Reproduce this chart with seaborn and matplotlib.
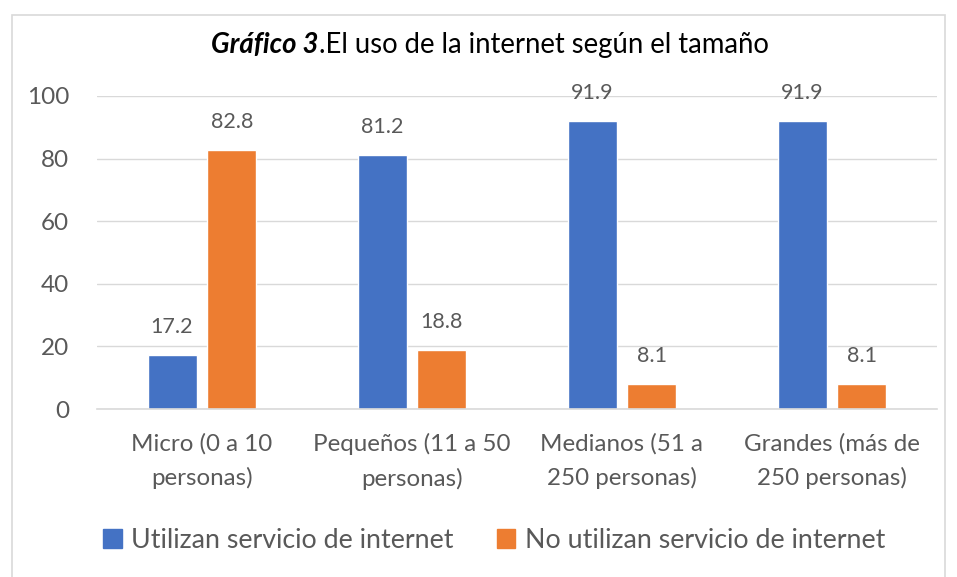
import matplotlib
matplotlib.use("Agg")
import matplotlib.pyplot as plt
from matplotlib.patches import Rectangle
import seaborn as sns
import pandas as pd

categories = ["Micro (0 a 10\npersonas)", "Pequeños (11 a 50\npersonas)",
              "Medianos (51 a\n250 personas)", "Grandes (más de\n250 personas)"]
series_names = ["Utilizan servicio de internet", "No utilizan servicio de internet"]
usan = [17.2, 81.2, 91.9, 91.9]
no_usan = [82.8, 18.8, 8.1, 8.1]
y_ticks = [0, 20, 40, 60, 80, 100]

colors = ["#4472C4", "#ED7D31"]
text_color = "#595959"

df = pd.DataFrame({
    "categoria": categories * 2,
    "serie": [series_names[0]] * 4 + [series_names[1]] * 4,
    "valor": usan + no_usan,
})

sns.set_style("white")
plt.rcParams["font.family"] = ["Lato", "DejaVu Sans"]

fig = plt.figure(figsize=(9.57, 5.77), dpi=100)
ax = fig.add_axes([97 / 957, 1 - 409 / 577, 840 / 957, 313 / 577])

sns.barplot(data=df, x="categoria", y="valor", hue="serie", palette=colors,
            width=0.571, gap=0.183, ax=ax, legend=False, saturation=1)

for cont in ax.containers:
    ax.bar_label(cont, fmt="%.1f", padding=13, fontsize=15.5, color=text_color)

ax.set_ylim(0, 100)
ax.set_xlim(-0.5, 3.5)
ax.set_yticks(y_ticks)
ax.set_yticklabels([str(t) for t in y_ticks])
ax.yaxis.grid(True, color="#D9D9D9", linewidth=1)
ax.set_axisbelow(True)
for side in ["top", "right", "left"]:
    ax.spines[side].set_visible(False)
ax.spines["bottom"].set_color("#D9D9D9")
ax.spines["bottom"].set_linewidth(1.2)
ax.tick_params(axis="y", length=0, pad=20, labelsize=17.5, labelcolor=text_color)
ax.tick_params(axis="x", length=0, pad=17, labelsize=17.4, labelcolor=text_color)
for lbl in ax.get_xticklabels():
    lbl.set_linespacing(1.72)
ax.set_xlabel("")
ax.set_ylabel("")

# Title: bold italic lead followed by regular text
title_y = 1 - 45 / 577
t1 = fig.text(0.0, title_y, "Gráfico 3", fontsize=19.8, fontweight="bold",
              fontstyle="italic", color="black", va="center", ha="left")
t2 = fig.text(0.0, title_y, ".El uso de la internet según el tamaño",
              fontsize=19.8, color="black", va="center", ha="left")
fig.canvas.draw()
r = fig.canvas.get_renderer()
w1 = t1.get_window_extent(r).width
w2 = t2.get_window_extent(r).width
x0 = 490 - (w1 + w2) / 2
t1.set_x(x0 / 957)
t2.set_x((x0 + w1) / 957)

handles = [Rectangle((0, 0), 1, 1, color=c) for c in colors]
fig.legend(handles, series_names, loc="center", bbox_to_anchor=(494 / 957, 1 - 540 / 577),
           ncol=2, frameon=False, fontsize=19.3, labelcolor=text_color,
           handlelength=0.7, handleheight=0.7, handletextpad=0.35, columnspacing=1.6)

fig.add_artist(Rectangle((12 / 957, -0.01), 933 / 957, 1 - 15 / 577 + 0.01,
                         transform=fig.transFigure, fill=False,
                         edgecolor="#D9D9D9", linewidth=1.2))

fig.savefig("out.png", dpi=100)
